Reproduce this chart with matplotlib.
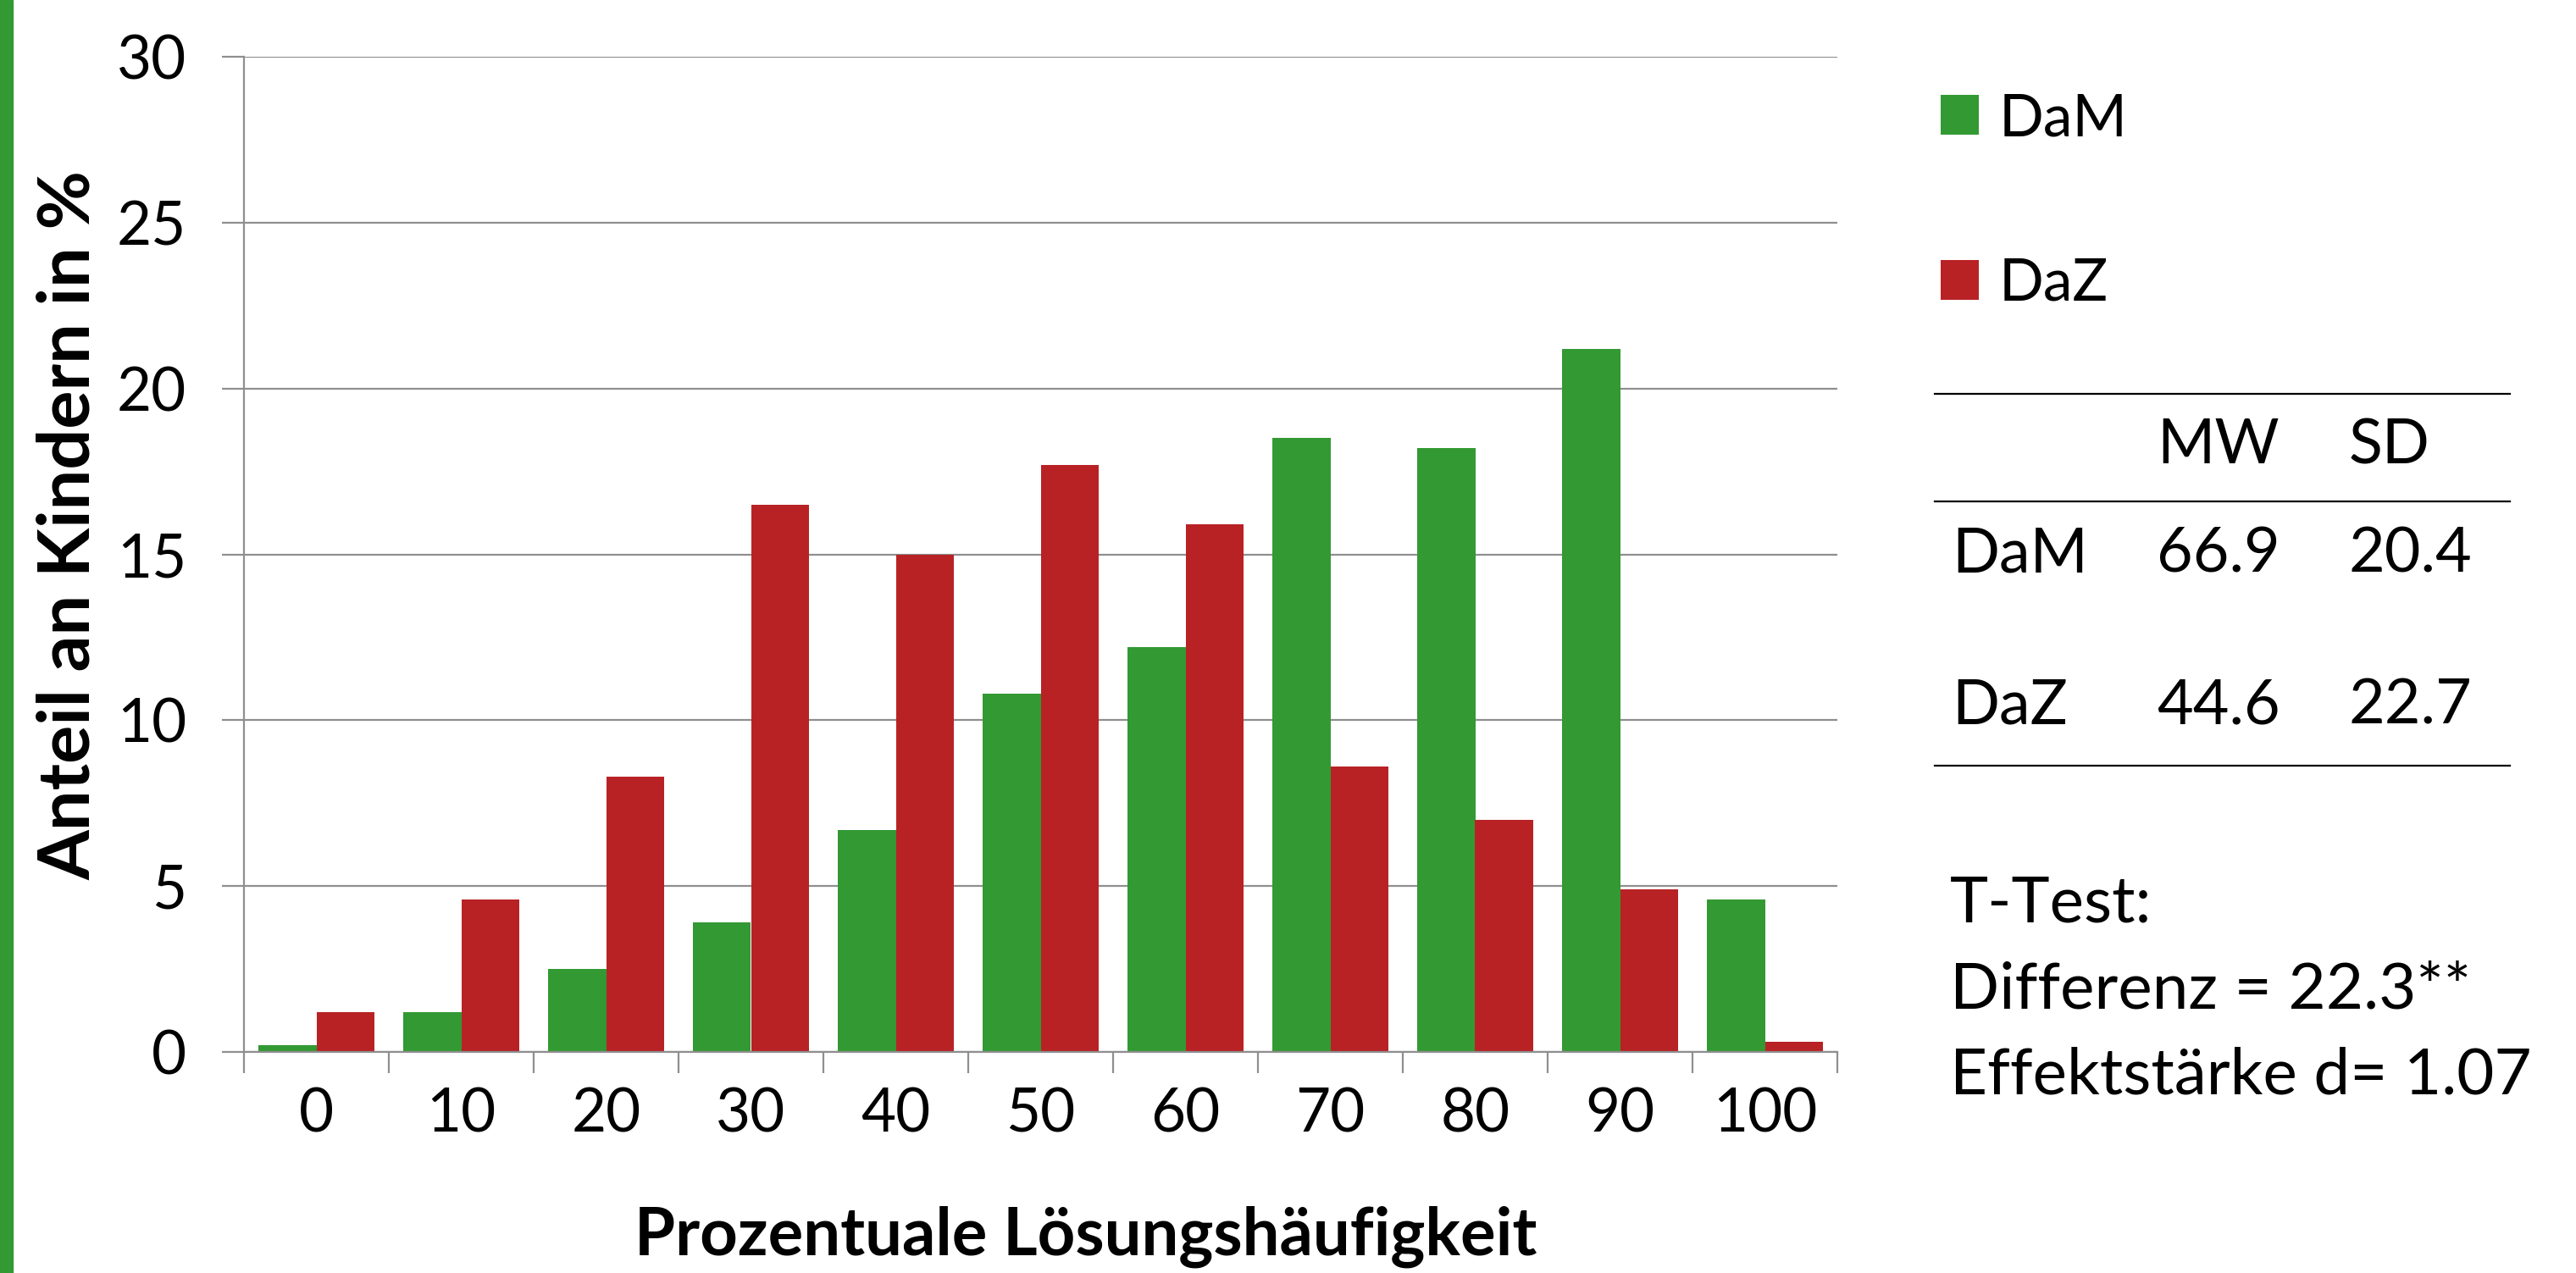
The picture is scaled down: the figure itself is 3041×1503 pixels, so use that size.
import numpy as np
import matplotlib
matplotlib.use("Agg")
import matplotlib.pyplot as plt
from matplotlib.patches import Rectangle

# Daten
kategorien = ["0", "10", "20", "30", "40", "50", "60", "70", "80", "90", "100"]
dam_werte = [0.2, 1.2, 2.5, 3.9, 6.7, 10.8, 12.2, 18.5, 18.2, 21.2, 4.6]
daz_werte = [1.2, 4.6, 8.3, 16.5, 15.0, 17.7, 15.9, 8.6, 7.0, 4.9, 0.3]
gruppen = ["DaM", "DaZ"]
tabelle_kopf = ["MW", "SD"]
tabelle_mw = ["66.9", "44.6"]
tabelle_sd = ["20.4", "22.7"]
ttest_zeilen = ["T-Test:", "Differenz = 22.3**", "Effektstärke d= 1.07"]

GRUEN = "#339933"
ROT = "#B82225"
GRAU = "#8f8f8f"

plt.rcParams["font.family"] = ["Lato", "DejaVu Sans"]

W, H = 3041, 1503
fig = plt.figure(figsize=(W / 100, H / 100), dpi=100)


# Pixel -> Figurkoordinaten
def fx(px):
    return px / W


def fy(py):
    return 1 - py / H


ax = fig.add_axes([fx(288), fy(1242), fx(2169) - fx(288), fy(67) - fy(1242)])

x = np.arange(len(kategorien))
b1 = ax.bar(x - 0.2, dam_werte, width=0.4, color=GRUEN, label=gruppen[0], zorder=2)
b2 = ax.bar(x + 0.2, daz_werte, width=0.4, color=ROT, label=gruppen[1], zorder=2)

ax.set_xlim(-0.5, len(kategorien) - 0.5)
ax.set_ylim(0, 30)
ax.set_yticks(np.arange(0, 31, 5))
ax.yaxis.grid(True, color=GRAU, linewidth=1.6)
ax.set_axisbelow(True)

# Striche an den Kategoriegrenzen, Beschriftung in der Mitte
ax.set_xticks(np.arange(-0.5, len(kategorien), 1.0))
ax.set_xticklabels([])
ax.set_xticks(x, minor=True)
ax.set_xticklabels(kategorien, minor=True)
ax.tick_params(axis="x", which="major", length=18, width=1.6, color=GRAU, direction="out")
ax.tick_params(axis="x", which="minor", length=0, pad=30, labelsize=51)
ax.tick_params(axis="y", length=19, width=1.6, color=GRAU, pad=30, labelsize=51)

for s in ["top", "right"]:
    ax.spines[s].set_visible(False)
for s in ["left", "bottom"]:
    ax.spines[s].set_color(GRAU)
    ax.spines[s].set_linewidth(1.6)

fig.text(fx(81), fy(620), "Anteil an Kindern in %", rotation=90, fontsize=61,
         fontweight="bold", ha="center", va="center")
fig.text(fx(1282), fy(1460), "Prozentuale Lösungshäufigkeit", fontsize=56,
         fontweight="bold", ha="center", va="center")

# Legende
fig.legend([b1, b2], gruppen, loc="center left", bbox_to_anchor=(fx(2228), fy(238)),
           frameon=False, fontsize=50, handlelength=0.65, handleheight=0.65,
           handletextpad=0.35, labelspacing=1.9)

# Tabelle
for yy in [465, 592, 904]:
    fig.add_artist(plt.Line2D([fx(2284), fx(2963)], [fy(yy), fy(yy)],
                              color="black", linewidth=1.6))
fig.text(fx(2546), fy(527), tabelle_kopf[0], fontsize=53, va="center")
fig.text(fx(2773), fy(527), tabelle_kopf[1], fontsize=53, va="center")
for i, yy in enumerate([655, 834]):
    fig.text(fx(2304), fy(yy), gruppen[i], fontsize=53, va="center")
    fig.text(fx(2546), fy(yy), tabelle_mw[i], fontsize=53, va="center")
    fig.text(fx(2773), fy(yy), tabelle_sd[i], fontsize=53, va="center")

for zeile, yy in zip(ttest_zeilen, [1067, 1169, 1270]):
    fig.text(fx(2302), fy(yy), zeile, fontsize=55, va="center")

# gruener Streifen am linken Rand
fig.patches.append(Rectangle((0, 0), fx(15), 1, transform=fig.transFigure,
                             color=GRUEN, zorder=0))

fig.savefig("out.png", dpi=100)
